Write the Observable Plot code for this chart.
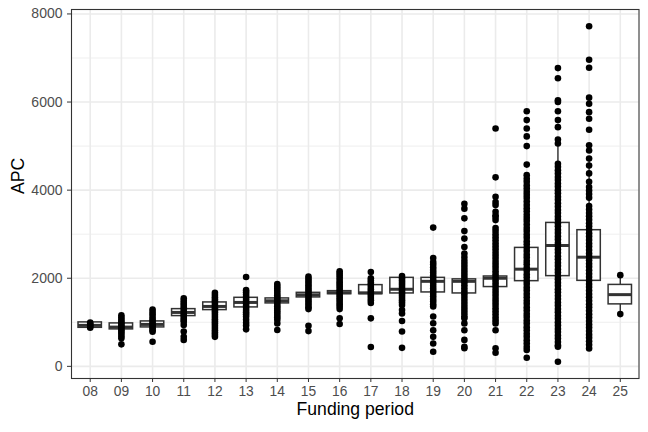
<!DOCTYPE html>
<html>
<head>
<meta charset="utf-8">
<script src="https://cdn.jsdelivr.net/npm/d3@7"></script>
<script src="https://cdn.jsdelivr.net/npm/@observablehq/plot@0.6"></script>
<style>
  html, body { margin: 0; padding: 0; background: #ffffff; }
  svg { display: block; }
</style>
</head>
<body>
<div id="chart"></div>
<script>
// Funding periods (x categories)
const periods = ["08","09","10","11","12","13","14","15","16","17","18","19","20","21","22","23","24","25"];

// Box summary per period (APC)
const q1          = [875, 839, 884, 1141, 1277, 1338, 1429, 1565, 1639, 1639, 1655, 1678, 1655, 1800, 1934, 2048, 1941, 1407];
const median      = [930, 891, 952, 1224, 1360, 1451, 1488, 1624, 1672, 1669, 1750, 1930, 1930, 2000, 2206, 2744, 2478, 1628];
const q3          = [998, 975, 1020, 1299, 1451, 1556, 1542, 1669, 1707, 1844, 2009, 2009, 1975, 2040, 2689, 3256, 3091, 1849];
const whiskerLow  = [870, 640, 780, 960, 1060, 1060, 1260, 1440, 1550, 1440, 1200, 1370, 1180, 1440, 820, 445, 408, 1186];
const whiskerHigh = [1000, 1160, 1230, 1480, 1660, 1730, 1710, 1790, 1800, 2140, 2050, 2460, 2450, 2400, 3820, 5057, 4717, 2070];

// Individual APC values per period (same order as periods)
const pointsByPeriod = [
  [995, 960, 935, 900, 875],
  [1160, 1110, 1060, 1015, 975, 935, 900, 860, 820, 780, 740, 690, 640, 500],
  [1290, 1235, 1180, 1125, 1075, 1030, 985, 945, 905, 865, 820, 785, 560],
  [1545, 1490, 1440, 1390, 1340, 1290, 1240, 1195, 1150, 1100, 1050, 1010, 940, 790, 670, 600],
  [1670, 1620, 1570, 1520, 1470, 1420, 1370, 1320, 1270, 1220, 1170, 1120, 1070, 1020, 970, 920, 870, 820, 770, 720, 670],
  [2030, 1730, 1680, 1630, 1580, 1530, 1480, 1430, 1380, 1330, 1280, 1230, 1180, 1130, 1060, 990, 930, 840],
  [1870, 1815, 1765, 1715, 1665, 1615, 1565, 1515, 1465, 1415, 1365, 1315, 1265, 1215, 1165, 1115, 1060, 975, 825],
  [2040, 1990, 1940, 1890, 1840, 1790, 1740, 1690, 1640, 1590, 1540, 1490, 1440, 1390, 1340, 1300, 920, 800],
  [2160, 2110, 2060, 2010, 1960, 1910, 1860, 1810, 1760, 1710, 1660, 1610, 1560, 1510, 1460, 1410, 1360, 1300, 1090, 960],
  [2140, 2000, 1950, 1900, 1850, 1800, 1750, 1700, 1650, 1600, 1550, 1500, 1440, 1090, 440],
  [2050, 2000, 1950, 1900, 1850, 1800, 1750, 1700, 1650, 1600, 1550, 1500, 1450, 1390, 1280, 1200, 1030, 790, 420],
  [3150, 2460, 2370, 2310, 2250, 2190, 2130, 2070, 2010, 1950, 1890, 1830, 1770, 1710, 1650, 1590, 1530, 1470, 1410, 1360, 1130, 980, 820, 670, 520, 330],
  [3690, 3580, 3360, 3070, 2900, 2710, 2560, 2480, 2400, 2330, 2260, 2190, 2120, 2050, 1980, 1910, 1840, 1770, 1700, 1630, 1560, 1490, 1420, 1350, 1280, 1210, 1140, 1090, 975, 820, 600, 445, 410],
  [5400, 4290, 3850, 3730, 3660, 3510, 3430, 3390, 3320, 3140, 3070, 3000, 2930, 2860, 2790, 2720, 2650, 2580, 2510, 2440, 2370, 2300, 2230, 2160, 2090, 2020, 1950, 1880, 1810, 1740, 1670, 1600, 1530, 1460, 1390, 1320, 1250, 1180, 1110, 1040, 975, 820, 410, 310],
  [5790, 5590, 5400, 5220, 5000, 4580, 4340, 4260, 4190, 4110, 4040, 3960, 3890, 3820, 3740, 3660, 3590, 3520, 3440, 3370, 3300, 3220, 3140, 3070, 2990, 2920, 2840, 2770, 2690, 2620, 2540, 2470, 2390, 2320, 2240, 2170, 2090, 2020, 1940, 1870, 1790, 1720, 1640, 1570, 1490, 1420, 1340, 1270, 1190, 1120, 1040, 970, 890, 820, 740, 670, 590, 520, 440, 370, 195],
  [6770, 6540, 6040, 6000, 5790, 5590, 5430, 5150, 5060, 4600, 4530, 4450, 4380, 4300, 4230, 4150, 4080, 4000, 3930, 3850, 3780, 3700, 3630, 3550, 3480, 3400, 3330, 3250, 3180, 3100, 3030, 2950, 2880, 2800, 2730, 2650, 2580, 2500, 2430, 2350, 2280, 2200, 2130, 2050, 1980, 1900, 1830, 1750, 1680, 1600, 1530, 1450, 1380, 1300, 1230, 1150, 1080, 1000, 930, 850, 780, 700, 630, 550, 480, 445, 105],
  [7720, 6960, 6780, 6100, 5960, 5770, 5620, 5370, 5020, 4900, 4720, 4560, 4380, 4190, 4070, 3990, 3910, 3830, 3640, 3560, 3480, 3410, 3330, 3250, 3180, 3100, 3020, 2950, 2870, 2790, 2720, 2640, 2560, 2490, 2410, 2330, 2260, 2180, 2100, 2030, 1950, 1870, 1800, 1720, 1640, 1570, 1490, 1410, 1340, 1260, 1180, 1110, 1030, 950, 880, 800, 720, 650, 570, 490, 408],
  [2070, 1186]
];

const yTicks = [0, 2000, 4000, 6000, 8000];
const yMinorTicks = [1000, 3000, 5000, 7000];

// Build tables for Plot
const idx = periods.map((p, i) => i);
const boxes = periods.map((p, i) => ({i, q1: q1[i], med: median[i], q3: q3[i], lo: whiskerLow[i], hi: whiskerHigh[i]}));
const pts = pointsByPeriod.flatMap((vals, i) => vals.map(v => ({i, v})));

const vmin = d3.min(pts, d => d.v), vmax = d3.max(pts, d => d.v);
const pad = (vmax - vmin) * 0.05;
const halfW = 0.375;

const font = "'Liberation Sans', Arial, Helvetica, sans-serif";

const chart = Plot.plot({
  width: 648,
  height: 432,
  marginLeft: 71,
  marginRight: 9.5,
  marginTop: 9,
  marginBottom: 54,
  style: {fontFamily: font, background: "#ffffff", overflow: "visible"},
  x: {type: "linear", domain: [-0.6, periods.length - 0.4]},
  y: {type: "linear", domain: [vmin - pad, vmax + pad]},
  marks: [
    Plot.ruleY(yMinorTicks, {stroke: "#EBEBEB", strokeWidth: 0.8}),
    Plot.ruleY(yTicks, {stroke: "#EBEBEB", strokeWidth: 1.6}),
    Plot.ruleX(idx, {stroke: "#EBEBEB", strokeWidth: 1.6}),
    // whiskers
    Plot.ruleX(boxes, {x: "i", y1: "q3", y2: "hi", stroke: "#333333", strokeWidth: 1.4}),
    Plot.ruleX(boxes, {x: "i", y1: "lo", y2: "q1", stroke: "#333333", strokeWidth: 1.4}),
    // boxes
    Plot.rect(boxes, {x1: d => d.i - halfW, x2: d => d.i + halfW, y1: "q1", y2: "q3", fill: "white", stroke: "#333333", strokeWidth: 1.5}),
    Plot.ruleY(boxes, {x1: d => d.i - halfW, x2: d => d.i + halfW, y: "med", stroke: "#333333", strokeWidth: 3}),
    // points
    Plot.dot(pts, {x: "i", y: "v", r: 3.3, fill: "black", stroke: "none"}),
    Plot.frame({stroke: "#333333", strokeWidth: 1.1}),
    Plot.axisY(yTicks, {tickFormat: d => String(d), tickSize: 4, tickPadding: 5, fontSize: 14, color: "#4D4D4D", label: null, stroke: "#333333"}),
    Plot.axisX(idx, {tickFormat: i => periods[i], tickSize: 4, tickPadding: 3.5, fontSize: 13.8, color: "#4D4D4D", label: null, stroke: "#333333"}),
    Plot.text(["APC"], {frameAnchor: "left", dx: -53.5, rotate: -90, fontSize: 17.6, fill: "black"}),
    Plot.text(["Funding period"], {frameAnchor: "bottom", dy: 36, fontSize: 17.6, fill: "black"})
  ]
});

document.getElementById("chart").appendChild(chart);
</script>
</body>
</html>
